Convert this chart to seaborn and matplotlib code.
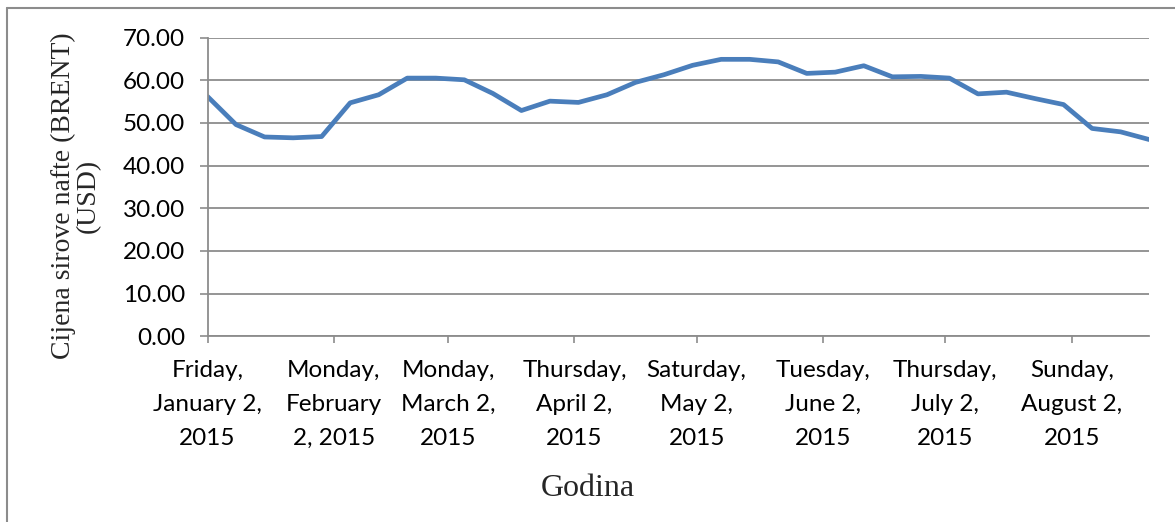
import matplotlib
matplotlib.use("Agg")
import matplotlib.pyplot as plt
from matplotlib.lines import Line2D
from matplotlib.ticker import FormatStrFormatter
import pandas as pd
import seaborn as sns

# Weekly Brent prices
dates = ["2015-01-02", "2015-01-09", "2015-01-16", "2015-01-23", "2015-01-30",
         "2015-02-06", "2015-02-13", "2015-02-20", "2015-02-27",
         "2015-03-06", "2015-03-13", "2015-03-20", "2015-03-27",
         "2015-04-03", "2015-04-10", "2015-04-17", "2015-04-24",
         "2015-05-01", "2015-05-08", "2015-05-15", "2015-05-22", "2015-05-29",
         "2015-06-05", "2015-06-12", "2015-06-19", "2015-06-26",
         "2015-07-03", "2015-07-10", "2015-07-17", "2015-07-24", "2015-07-31",
         "2015-08-07", "2015-08-14", "2015-08-21"]
prices = [56.2, 49.6, 46.7, 46.5, 46.8, 54.7, 56.6, 60.5, 60.5, 60.1,
          56.9, 52.9, 55.1, 54.8, 56.6, 59.5, 61.3, 63.5, 64.9, 64.9,
          64.3, 61.6, 61.9, 63.4, 60.8, 60.9, 60.5, 56.8, 57.2, 55.7,
          54.3, 48.7, 47.9, 46.1]

tick_dates = ["2015-01-02", "2015-02-02", "2015-03-02", "2015-04-02",
              "2015-05-02", "2015-06-02", "2015-07-02", "2015-08-02"]
tick_labels = ["Friday,\nJanuary 2,\n2015", "Monday,\nFebruary\n2, 2015",
               "Monday,\nMarch 2,\n2015", "Thursday,\nApril 2,\n2015",
               "Saturday,\nMay 2,\n2015", "Tuesday,\nJune 2,\n2015",
               "Thursday,\nJuly 2,\n2015", "Sunday,\nAugust 2,\n2015"]
y_ticks = [0, 10, 20, 30, 40, 50, 60, 70]

df = pd.DataFrame({"date": pd.to_datetime(dates), "price": prices})

sns.set_style("white")
plt.rcParams["font.family"] = ["Lato", "DejaVu Sans"]

grey = "#8c8c8c"
fig = plt.figure(figsize=(11.75, 5.22), dpi=100)
ax = fig.add_axes([0.1766, 0.356, 0.8014, 0.572])

sns.lineplot(data=df, x="date", y="price", color="#4a7ebb", linewidth=3.4,
             ax=ax, legend=False)

ax.set_xlim(pd.Timestamp("2015-01-02"), pd.Timestamp("2015-08-21"))
ax.set_ylim(0, 70)
ax.set_yticks(y_ticks)
ax.yaxis.set_major_formatter(FormatStrFormatter("%.2f"))
ax.set_xticks(pd.to_datetime(tick_dates))
ax.set_xticklabels(tick_labels, linespacing=1.74)
ax.grid(axis="y", color=grey, linewidth=1.3)
ax.set_axisbelow(True)

for s in ["top", "right"]:
    ax.spines[s].set_visible(False)
for s in ["left", "bottom"]:
    ax.spines[s].set_color(grey)
    ax.spines[s].set_linewidth(1.3)

ax.tick_params(axis="y", length=6, width=1.2, color=grey, pad=10,
               labelsize=17.5, labelcolor="black", left=True)
ax.tick_params(axis="x", length=5, width=1.2, color=grey, pad=12.5,
               labelsize=17.5, labelcolor="black", bottom=True)

ax.set_xlabel("")
ax.set_ylabel("")

serif = ["Liberation Serif", "DejaVu Serif"]
fig.text(76 / 1175, 1 - 196 / 522, "Cijena sirove nafte (BRENT)\n(USD)",
         rotation=90, ha="center", va="center", multialignment="center",
         family=serif, fontsize=20, linespacing=1.0)
fig.text(588 / 1175, 1 - 488 / 522, "Godina", ha="center", va="center",
         family=serif, fontsize=23)

# chart frame (only left and top edges show)
fig.add_artist(Line2D([7 / 1175, 7 / 1175], [0, 1 - 8 / 522],
                      color=grey, linewidth=1.5))
fig.add_artist(Line2D([7 / 1175, 1], [1 - 8 / 522, 1 - 8 / 522],
                      color=grey, linewidth=1.5))

fig.savefig("out.png", dpi=100)
